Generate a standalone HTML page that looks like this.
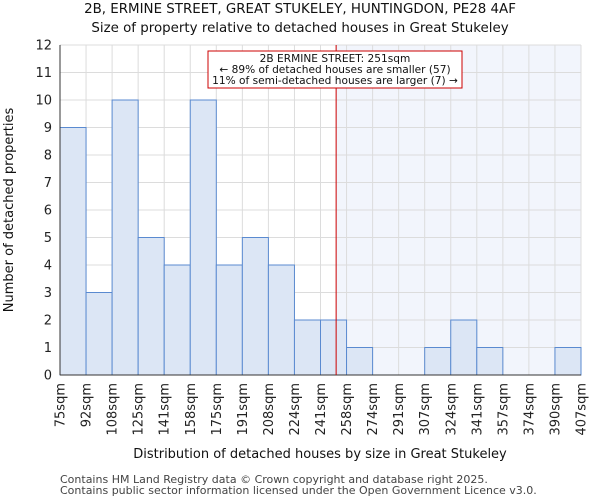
<!DOCTYPE html>
<html><head><meta charset="utf-8"><style>
body{margin:0;background:#fff;font-family:"DejaVu Sans","Liberation Sans",sans-serif}
</style></head><body>
<svg width="600" height="500" xmlns="http://www.w3.org/2000/svg" font-family="DejaVu Sans, Liberation Sans, sans-serif">
<g id="g"></g>
</svg>
<script>
const edges=["75sqm","92sqm","108sqm","125sqm","141sqm","158sqm","175sqm","191sqm","208sqm","224sqm","241sqm","258sqm","274sqm","291sqm","307sqm","324sqm","341sqm","357sqm","374sqm","390sqm","407sqm"];
const counts=[9,3,10,5,4,10,4,5,4,2,2,1,0,0,1,2,1,0,0,1];
const yTicks=[0,1,2,3,4,5,6,7,8,9,10,11,12];
const markerIndex=10.6;
const X0=60,X1=581,Y0=375,Y1=45;
const nb=counts.length;
const xs=i=>X0+i*(X1-X0)/nb;
const ys=v=>Y0-v*(Y0-Y1)/12;
const NS="http://www.w3.org/2000/svg";
const g=document.getElementById('g');
function el(t,a,txt){const e=document.createElementNS(NS,t);for(const k in a)e.setAttribute(k,a[k]);if(txt!==undefined)e.textContent=txt;g.appendChild(e);return e;}
const mx=xs(markerIndex);
let r=el('rect',{x:mx,y:Y1,width:X1-mx,height:Y0-Y1,fill:'#f2f5fc'});


yTicks.forEach(v=>{let l=el('line',{x1:X0,x2:X1,y1:ys(v),y2:ys(v),stroke:'#dcdcdc'});
});
edges.forEach((e,i)=>{let l=el('line',{x1:xs(i),x2:xs(i),y1:Y1,y2:Y0,stroke:'#dcdcdc'});
});
counts.forEach((c,i)=>{if(c<=0)return;let b=el('rect',{x:xs(i),y:ys(c),width:xs(i+1)-xs(i),height:ys(0)-ys(c),fill:'#dce6f5',stroke:'#5a8ad0','stroke-width':1});
});
let ax=el('line',{x1:X0,x2:X0,y1:Y1,y2:Y0,stroke:'#333'});
let bx=el('line',{x1:X0,x2:X1,y1:Y0,y2:Y0,stroke:'#333'});
yTicks.forEach(v=>{let t=el('text',{x:X0-8,y:ys(v)+4.5,'text-anchor':'end','font-size':13,fill:'#222'},String(v));
});
edges.forEach((e,i)=>{const x=xs(i);let t=el('text',{x:0,y:0,transform:`translate(${x+4.5},${Y0+8}) rotate(-90)`,'text-anchor':'end','font-size':13,fill:'#222'},e);
});
let ml=el('line',{x1:mx,x2:mx,y1:Y1,y2:Y0,stroke:'#cc0000','stroke-width':1});
let box=el('rect',{x:208,y:51,width:254,height:37,fill:'#fff',stroke:'#cc0000'});
[["2B ERMINE STREET: 251sqm",62],["← 89% of detached houses are smaller (57)",73],["11% of semi-detached houses are larger (7) →",84]].forEach(([s,y])=>{let t=el('text',{x:335,y:y,'text-anchor':'middle','font-size':10.6,fill:'#111'},s);});
let t1=el('text',{x:300,y:13,'text-anchor':'middle','font-size':13.4,fill:'#111'},"2B, ERMINE STREET, GREAT STUKELEY, HUNTINGDON, PE28 4AF");
let t2=el('text',{x:300,y:32,'text-anchor':'middle','font-size':13.4,fill:'#111'},"Size of property relative to detached houses in Great Stukeley");
let xt=el('text',{x:320,y:458,'text-anchor':'middle','font-size':13,fill:'#111'},"Distribution of detached houses by size in Great Stukeley");
let yt=el('text',{x:0,y:0,transform:'translate(13,210) rotate(-90)','text-anchor':'middle','font-size':13,fill:'#111'},"Number of detached properties");
let f1=el('text',{x:60,y:483,'font-size':11,fill:'#444'},"Contains HM Land Registry data © Crown copyright and database right 2025.");
let f2=el('text',{x:60,y:494,'font-size':11,fill:'#444'},"Contains public sector information licensed under the Open Government Licence v3.0.");
</script>
</body></html>
